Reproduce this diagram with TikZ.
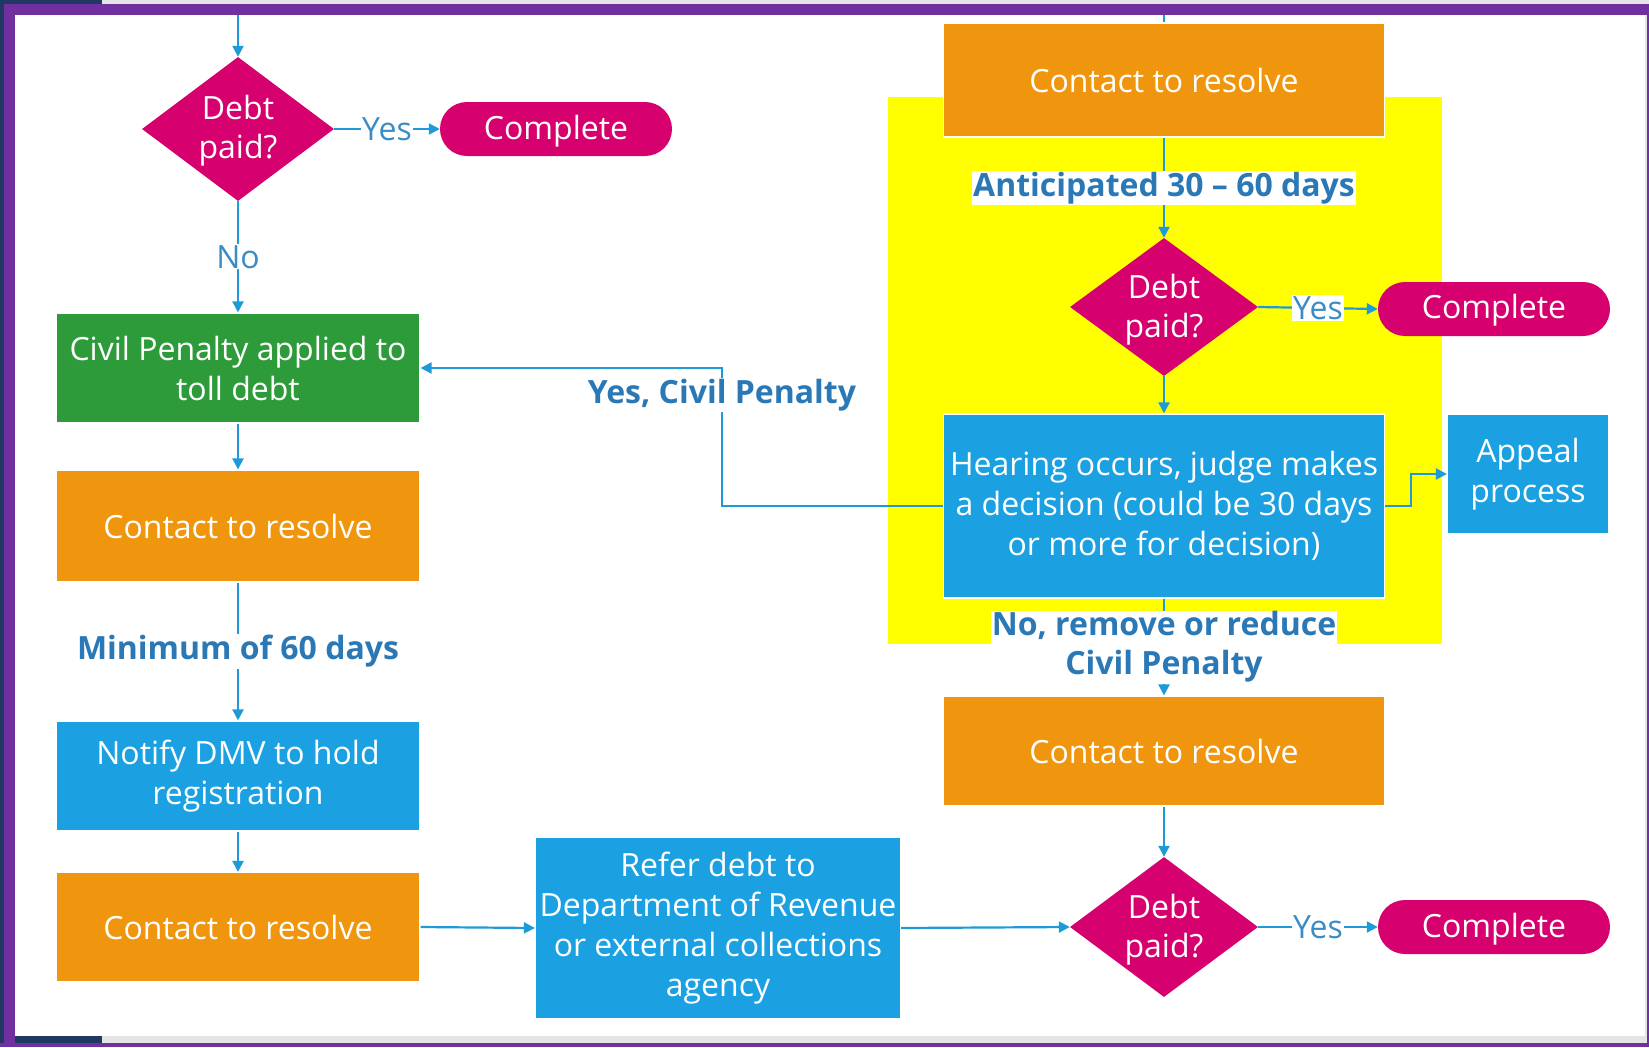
\documentclass[tikz,border=0pt]{standalone}
\usepackage{fontspec}
\setmainfont{Open Sans}
\usetikzlibrary{shapes.geometric,arrows.meta}

\definecolor{magentaF}{HTML}{D6006E}
\definecolor{orangeF}{HTML}{F0960E}
\definecolor{greenF}{HTML}{2E9B3A}
\definecolor{blueF}{HTML}{1BA1E2}
\definecolor{lineC}{HTML}{1E9AD8}
\definecolor{labelC}{HTML}{2A78B6}
\definecolor{yesC}{HTML}{3A8CC6}
\definecolor{frameP}{HTML}{7030A0}
\definecolor{frameN}{HTML}{1F3864}
\definecolor{frameG}{HTML}{E4E4E4}
\definecolor{hiY}{HTML}{FFFF00}

\tikzset{
  box/.style={rectangle, draw=white, line width=1.2pt, text=white, align=center,
    font=\fontsize{32}{40}\selectfont, inner sep=0pt},
  orangebox/.style={box, fill=orangeF},
  greenbox/.style={box, fill=greenF},
  bluebox/.style={box, fill=blueF},
  dia/.style={diamond, fill=magentaF, inner sep=0pt},
  diatext/.style={text=white, align=center, font=\fontsize{32}{39}\selectfont, inner sep=0pt},
  pill/.style={rectangle, rounded corners=27pt, fill=magentaF, text=white,
    font=\fontsize{32}{40}\selectfont, minimum width=232pt, minimum height=54pt, inner sep=0pt},
  pilltext/.style={text=white, font=\fontsize{32}{40}\selectfont, inner sep=0pt},
  conn/.style={draw=lineC, line width=2.2pt},
  arr/.style={conn, -{Triangle[length=11pt,width=11pt]}},
  yeslab/.style={fill=white, text=yesC, font=\fontsize{32}{38}\selectfont, inner sep=1pt},
  boldlab/.style={fill=white, text=labelC, font=\bfseries\fontsize{32}{39}\selectfont,
    inner sep=1pt, align=center},
}

\begin{document}
\begin{tikzpicture}[x=1pt, y=-1pt]
  \useasboundingbox (0,0) rectangle (1649,1047);
  \fill[white] (0,0) rectangle (1649,1047);

  % window frame
  \fill[frameG] (0,0) rectangle (1649,4);
  \fill[frameN] (0,0) rectangle (102,4);
  \fill[frameP] (0,4) rectangle (1649,15);
  \fill[frameN] (0,0) rectangle (4,1047);
  \fill[frameP] (4,4) rectangle (15,1047);
  \fill[frameG] (15,1036) rectangle (1646,1043);
  \fill[frameN] (15,1036) rectangle (102,1043);
  \fill[frameP] (0,1043) rectangle (1649,1047);
  \fill[frameG] (1645,15) rectangle (1647,1043);
  \fill[frameP] (1647,4) rectangle (1649,1047);

  % highlighted court stage
  \fill[hiY] (888,97) rectangle (1442,644);

  % left column
  \node[dia, minimum width=192pt, minimum height=144pt] (d1) at (238,129) {};
  \node[diatext] (d1t) at (238,131) {Debt\\paid?};
  \node[pill] (c1) at (556,129) {};
  \node[pilltext] (c1t) at (556,131) {Complete};
  \node[greenbox, minimum width=364pt, minimum height=110pt] (cp) at (238,368)
    {Civil Penalty applied to\\toll debt};
  \node[orangebox, minimum width=364pt, minimum height=112pt] (cr1) at (238,526)
    {Contact to resolve};
  \node[bluebox, minimum width=364pt, minimum height=110pt] (dmv) at (238,776)
    {Notify DMV to hold\\registration};
  \node[orangebox, minimum width=364pt, minimum height=109pt] (cr2) at (238,927)
    {Contact to resolve};
  \node[bluebox, minimum width=365pt, minimum height=182pt] (refer) at (718,928)
    {Refer debt to\\Department of Revenue\\or external collections\\agency};

  % right column
  \node[orangebox, minimum width=441pt, minimum height=114pt] (cr3) at (1164,80)
    {Contact to resolve};
  \node[dia, minimum width=188pt, minimum height=138pt] (d2) at (1164,307) {};
  \node[diatext] (d2t) at (1164,310) {Debt\\paid?};
  \node[pill] (c2) at (1494,309) {};
  \node[pilltext] (c2t) at (1494,310) {Complete};
  \node[bluebox, minimum width=441pt, minimum height=184pt] (hear) at (1164,506)
    {Hearing occurs, judge makes\\a decision (could be 30 days\\or more for decision)};
  \node[bluebox, minimum width=161pt, minimum height=120pt] (appeal) at (1528,474)
    {Appeal\\process};
  \node[orangebox, minimum width=441pt, minimum height=110pt] (cr4) at (1164,751)
    {Contact to resolve};
  \node[dia, minimum width=188pt, minimum height=140pt] (d3) at (1164,927) {};
  \node[diatext] (d3t) at (1164,930) {Debt\\paid?};
  \node[pill] (c3) at (1494,927) {};
  \node[pilltext] (c3t) at (1494,929) {Complete};

  % connector end points at the top edge and bends
  \coordinate (topL) at (238,15);
  \coordinate (topR) at (1164,15);
  \coordinate (bendCP) at (722,506);
  \coordinate (bendAP) at (1411,506);

  % left column flow
  \draw[arr] (topL) -- (d1.north);
  \draw[arr] (d1.east) -- node[yeslab] (y1) {Yes} (c1.west);
  \draw[arr] (d1.south) -- node[yeslab] (n1) {No} (cp.north);
  \draw[arr] (cp.south) -- (cr1.north);
  \draw[arr] (cr1.south) -- node[boldlab] (min60) {Minimum of 60 days} (dmv.north);
  \draw[arr] (dmv.south) -- (cr2.north);
  \draw[arr] (cr2.east) -- (refer.west);
  \draw[arr] (refer.east) -- (d3.west);

  % right column flow
  \draw[conn] (topR) -- (cr3.north);
  \draw[arr] (cr3.south) -- node[boldlab] (ant) {Anticipated 30 – 60 days} (d2.north);
  \draw[arr] (d2.east) -- node[yeslab] (y2) {Yes} (c2.west);
  \draw[arr] (d2.south) -- (hear.north);
  \draw[arr] (hear.east) -- (bendAP) |- (appeal.west);
  \draw[arr] (hear.west) -- (bendCP) |- (cp.east);
  \node[boldlab] (yescp) at (722,395) {Yes, Civil Penalty};
  \draw[arr] (hear.south) -- node[boldlab, pos=0.5] (reduce) {No, remove or reduce\\Civil Penalty} (cr4.north);
  \draw[arr] (cr4.south) -- (d3.north);
  \draw[arr] (d3.east) -- node[yeslab] (y3) {Yes} (c3.west);
\end{tikzpicture}
\end{document}
